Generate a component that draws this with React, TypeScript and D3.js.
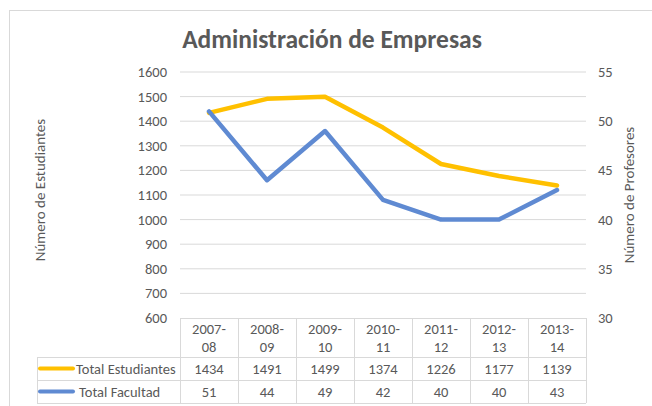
import React from "react";
import * as d3 from "d3";

const categories = ["2007-08", "2008-09", "2009-10", "2010-11", "2011-12", "2012-13", "2013-14"];
const estudiantes = [1434, 1491, 1499, 1374, 1226, 1177, 1139];
const facultad = [51, 44, 49, 42, 40, 40, 43];
const leftTicks = [600, 700, 800, 900, 1000, 1100, 1200, 1300, 1400, 1500, 1600];
const rightTicks = [30, 35, 40, 45, 50, 55];
const seriesNames = ["Total Estudiantes", "Total Facultad"];

const W = 652, H = 406;
const FONT = "Carlito, Calibri, 'Liberation Sans', Arial, sans-serif";
const TXT = "#595959";
const GRID = "#d9d9d9";
const YELLOW = "#FFC000";
const BLUE = "#5F8AD2";
const FS = 14.5;

export default function App() {
  const left = 180, right = 586, top = 72, bottom = 318;
  const x = d3.scaleBand<string>().domain(categories).range([left, right]);
  const yL = d3.scaleLinear().domain([600, 1600]).range([bottom, top]);
  const yR = d3.scaleLinear().domain([30, 55]).range([bottom, top]);
  const cx = (c: string) => (x(c) as number) + x.bandwidth() / 2;

  const lineL = d3.line<number>().x((_, i) => cx(categories[i])).y((d) => yL(d));
  const lineR = d3.line<number>().x((_, i) => cx(categories[i])).y((d) => yR(d));

  const tableTop = bottom;
  const catRowH = 39;
  const rowH = 23;
  const legendLeft = 37;
  const row1 = tableTop + catRowH;
  const row2 = row1 + rowH;
  const row3 = row2 + rowH;

  return (
    <div style={{ position: "absolute", left: 0, top: 0 }}>
      <svg width={W} height={H} style={{ display: "block", fontFamily: FONT }}>
        <rect x={0} y={0} width={W} height={H} fill="#fff" />
        <rect x={9.5} y={10.5} width={W} height={H} fill="#fff" stroke="#d9d9d9" />
        <text x={332} y={48} textAnchor="middle" fontSize={25.5} fontWeight="bold" fill={TXT}>
          Administración de Empresas
        </text>
        {leftTicks.map((t) => (
          <g key={"l" + t}>
            {t !== 600 && (
              <line x1={left} x2={right} y1={yL(t)} y2={yL(t)} stroke={GRID} strokeWidth={1} />
            )}
            <text x={167} y={yL(t) + 5} textAnchor="end" fontSize={FS} fill={TXT}>
              {t}
            </text>
          </g>
        ))}
        {rightTicks.map((t) => (
          <text key={"r" + t} x={598} y={yR(t) + 5} textAnchor="start" fontSize={FS} fill={TXT}>
            {t}
          </text>
        ))}
        <text
          transform={`translate(45, ${190}) rotate(-90)`}
          textAnchor="middle"
          fontSize={15}
          fill={TXT}
        >
          Número de Estudiantes
        </text>
        <text
          transform={`translate(634, ${(top + bottom) / 2}) rotate(-90)`}
          textAnchor="middle"
          fontSize={15}
          fill={TXT}
        >
          Número de Profesores
        </text>

        <g stroke={GRID} strokeWidth={1} fill="none">
          <line x1={left} x2={right} y1={tableTop + 0.5} y2={tableTop + 0.5} />
          <line x1={legendLeft} x2={right} y1={row1 + 0.5} y2={row1 + 0.5} />
          <line x1={legendLeft} x2={right} y1={row2 + 0.5} y2={row2 + 0.5} />
          <line x1={legendLeft} x2={right} y1={row3 + 0.5} y2={row3 + 0.5} />
          <line x1={legendLeft + 0.5} x2={legendLeft + 0.5} y1={row1} y2={row3} />
          {categories.map((c) => (
            <line key={"v" + c} x1={(x(c) as number) + 0.5} x2={(x(c) as number) + 0.5} y1={tableTop} y2={row3} />
          ))}
          <line x1={right + 0.5} x2={right + 0.5} y1={tableTop} y2={row3} />
        </g>
        {categories.map((c) => {
          const [a, b] = c.split("-");
          return (
            <text key={"c" + c} x={cx(c)} textAnchor="middle" fontSize={FS} fill={TXT}>
              <tspan x={cx(c)} y={tableTop + 16}>{a}-</tspan>
              <tspan x={cx(c)} y={tableTop + 34}>{b}</tspan>
            </text>
          );
        })}
        {estudiantes.map((v, i) => (
          <text key={"e" + i} x={cx(categories[i])} y={row1 + 16.5} textAnchor="middle" fontSize={FS} fill={TXT}>
            {v}
          </text>
        ))}
        {facultad.map((v, i) => (
          <text key={"f" + i} x={cx(categories[i])} y={row2 + 16.5} textAnchor="middle" fontSize={FS} fill={TXT}>
            {v}
          </text>
        ))}
        <line x1={40} x2={73} y1={row1 + 11.5} y2={row1 + 11.5} stroke={YELLOW} strokeWidth={4} strokeLinecap="round" />
        <text x={76} y={row1 + 16.5} fontSize={FS} fill={TXT}>{seriesNames[0]}</text>
        <line x1={40} x2={73} y1={row2 + 11.5} y2={row2 + 11.5} stroke={BLUE} strokeWidth={4} strokeLinecap="round" />
        <text x={79} y={row2 + 16.5} fontSize={FS} fill={TXT}>{seriesNames[1]}</text>

        <path d={lineL(estudiantes) || ""} fill="none" stroke={YELLOW} strokeWidth={4.5} strokeLinejoin="round" strokeLinecap="round" />
        <path d={lineR(facultad) || ""} fill="none" stroke={BLUE} strokeWidth={4.5} strokeLinejoin="round" strokeLinecap="round" />
      </svg>
    </div>
  );
}
